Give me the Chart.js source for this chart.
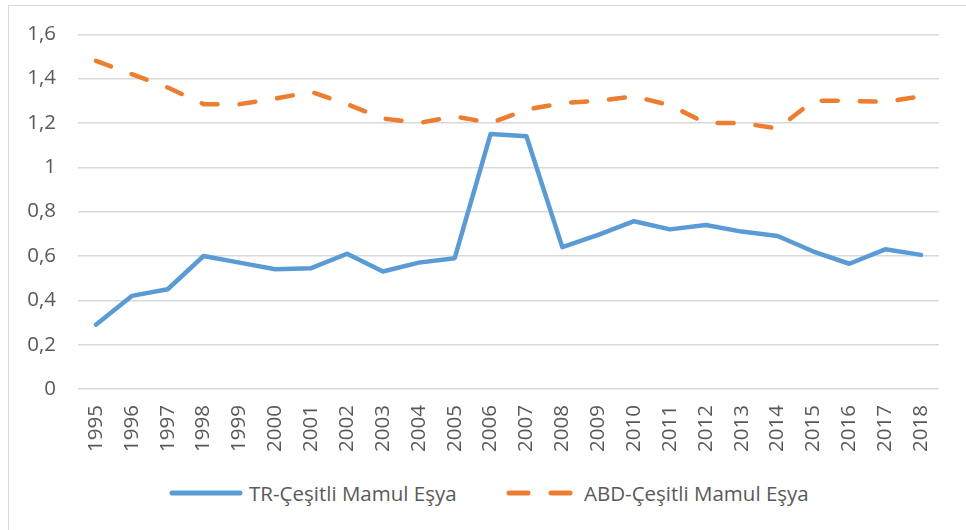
<!DOCTYPE html>
<html>
<head>
<meta charset="utf-8">
<script src="https://cdn.jsdelivr.net/npm/chart.js@4"></script>
<style>
  html, body { margin: 0; padding: 0; background: #fff; }
  body { width: 966px; height: 530px; position: relative; overflow: hidden;
         font-family: "Open Sans", sans-serif; color: #595959; }
  .frame { position: absolute; left: 8px; top: 5px; width: 1000px; height: 600px;
           border: 1px solid #d9d9d9; box-sizing: border-box; }
  #wrap { position: absolute; left: 0; top: 0; width: 966px; height: 470px; }
  .legend { position: absolute; top: 478px; left: 0; width: 966px; height: 30px; font-size: 20.5px; }
  .legend .item { position: absolute; top: 0; display: flex; align-items: center; height: 30px; }
  .legend svg { margin-right: 5px; }
</style>
</head>
<body>
<div class="frame"></div>
<div id="wrap"><canvas id="chart"></canvas></div>
<div class="legend">
  <div class="item" style="left:168px">
    <svg width="76" height="10"><line x1="4" y1="5" x2="72" y2="5" stroke="#5B9BD5" stroke-width="5" stroke-linecap="round"/></svg>
    <span>TR-Çeşitli Mamul Eşya</span>
  </div>
  <div class="item" style="left:505px">
    <svg width="74" height="10"><line x1="4" y1="5" x2="70" y2="5" stroke="#ED7D31" stroke-width="5" stroke-linecap="round" stroke-dasharray="19 23"/></svg>
    <span>ABD-Çeşitli Mamul Eşya</span>
  </div>
</div>
<script>
/* ---------- data ---------- */
const years = ["1995","1996","1997","1998","1999","2000","2001","2002","2003","2004","2005","2006",
               "2007","2008","2009","2010","2011","2012","2013","2014","2015","2016","2017","2018"];

const trValues = [0.29, 0.42, 0.45, 0.60, 0.57, 0.54, 0.545, 0.61, 0.53, 0.57, 0.59, 1.15,
                  1.14, 0.64, 0.695, 0.757, 0.72, 0.74, 0.71, 0.69, 0.62, 0.565, 0.63, 0.605];

const abdValues = [1.48, 1.42, 1.36, 1.285, 1.285, 1.31, 1.34, 1.285, 1.22, 1.20, 1.23, 1.20,
                   1.26, 1.29, 1.30, 1.32, 1.28, 1.20, 1.20, 1.175, 1.30, 1.30, 1.295, 1.32];

const seriesLabels = ["TR-Çeşitli Mamul Eşya", "ABD-Çeşitli Mamul Eşya"];

const yMin = 0, yMax = 1.6, yStep = 0.2;

/* ---------- helpers ---------- */
function formatTick(v) {
  const r = Math.round(v * 10) / 10;
  return String(r).replace(".", ",");
}

/* ---------- chart ---------- */
const ctx = document.getElementById("chart");

new Chart(ctx, {
  type: "line",
  data: {
    labels: years,
    datasets: [
      {
        label: seriesLabels[0],
        data: trValues,
        borderColor: "#5B9BD5",
        borderWidth: 4.5,
        pointRadius: 0,
        tension: 0,
        borderCapStyle: "round",
        borderJoinStyle: "round"
      },
      {
        label: seriesLabels[1],
        data: abdValues,
        borderColor: "#ED7D31",
        borderWidth: 4.5,
        borderDash: [16, 22],
        borderCapStyle: "round",
        borderJoinStyle: "round",
        pointRadius: 0,
        tension: 0
      }
    ]
  },
  options: {
    responsive: true,
    maintainAspectRatio: false,
    animation: false,
    layout: { padding: { left: 0, top: 34, right: 27, bottom: 0 } },
    plugins: {
      legend: { display: false },
      tooltip: { enabled: false }
    },
    scales: {
      x: {
        offset: true,
        grid: { display: false },
        border: { display: false },
        ticks: {
          color: "#595959",
          font: { family: "Open Sans", size: 20.5 },
          maxRotation: 90,
          minRotation: 90,
          padding: 8,
          autoSkip: false
        },
        afterFit: s => { s.height = 81; }
      },
      y: {
        min: yMin,
        max: yMax,
        grid: { color: "#d9d9d9", lineWidth: 1.5, drawTicks: false },
        border: { display: false },
        ticks: {
          stepSize: yStep,
          color: "#595959",
          font: { family: "Open Sans", size: 20.5 },
          padding: 22,
          callback: v => formatTick(v)
        },
        afterFit: s => { s.width = 78; }
      }
    }
  }
});
</script>
</body>
</html>
